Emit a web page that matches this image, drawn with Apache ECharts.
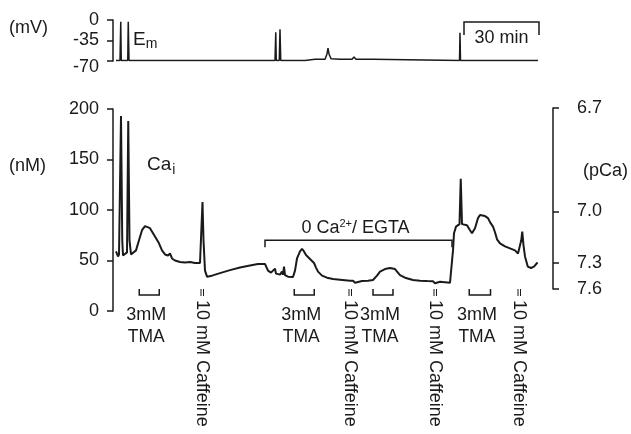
<!DOCTYPE html>
<html><head><meta charset="utf-8">
<script src="https://cdn.jsdelivr.net/npm/echarts@6/dist/echarts.min.js"></script>
<style>html,body{margin:0;padding:0;background:#fff}#c{width:631px;height:434px}</style>
</head><body><div id="c"></div>
<script>
// ---- data (time in minutes) ----
const caTime = [1.2,2.0,2.4,2.8,3.2,3.7,4.0,4.8,5.6,6.1,
  6.6,7.2,8.0,9.2,10.4,11.6,12.8,13.6,14.8,16.0,
  17.2,18.4,19.6,20.8,22.0,22.8,23.6,24.8,26.8,28.8,
  30.8,32.8,34.8,35.4,35.8,36.2,36.8,37.6,39.6,42.8,
  46.8,50.8,54.8,58.0,60.8,62.0,63.2,64.0,64.8,65.2,
  66.0,66.8,67.6,68.0,68.4,68.8,70.0,72.0,72.8,73.6,
  74.8,75.6,76.4,77.2,78.0,78.8,79.6,80.4,81.2,82.0,
  83.6,85.6,88.0,90.8,94.8,96.0,96.8,97.6,99.6,102.0,
  104.0,105.6,106.8,108.8,110.8,111.6,112.8,114.8,116.8,120.0,
  122.8,125.6,128.0,128.8,129.6,130.8,132.8,134.8,135.6,136.0,
  136.4,137.2,138.0,138.6,139.1,139.6,140.0,141.6,142.8,143.6,
  144.8,146.0,146.8,147.6,148.8,150.0,150.8,152.0,152.8,153.6,
  154.8,156.8,158.8,160.8,162.0,162.8,163.3,163.7,164.2,164.8,
  165.9,167.2,168.4,169.8];
const caValue = [59,54,56,57,193,70,55,55,58,188,
  70,56,56,60,70,80,84,85,82,77,
  72,67,60,56,55,57,52,50,48.5,48,
  48.5,47.5,47.5,48,108,70,40,34,35,37.5,
  40.5,43,45,46.5,46.5,40,38,38,42,37,
  37.6,36,39,36,44,35.6,34,33.7,40,52,
  59,61.4,59,55.4,54,51.5,49.5,47.5,43,39,
  35,33,31.7,31,30,30,28,29.5,29.7,30,
  30.7,35,39,41.5,42.6,43,41.5,35.6,33,30.7,
  30,29.7,29.5,27.4,28.5,29,28.5,28,29,60,
  77,83.5,84,86,131,86,85,85,80,77,
  82,92,95,96,94,92,88,83.5,78,71,
  67,64,62,60,57,58,70,78.5,65,54,
  44,42.6,44,48];
const emTime = [1.2,2.8,3.1,3.3,5.9,6.1,6.4,64.8,65.1,65.3,66.5,66.8,67.1,76.8,80.8,84.8,85.6,86.0,86.4,87.2,90.8,95.6,96.4,97.2,104.0,104.8,138.6,138.8,139.0,170.0];
const emValue = [-69,-69,-3,-69,-69,-3,-69,-69,-21,-69,-69,-16,-69,-69,-67,-67,-58,-48,-58,-66,-67,-67,-63,-67,-67,-69,-69,-22,-69,-69];
const tmaStart = [10.5, 72.5, 104, 142.5];
const tmaEnd = [18.5, 80.5, 112, 151];
const caffeineTime = [35.6, 94.8, 128.8, 162.4];
const egtaStart = 60.8, egtaEnd = 135.6;
const scaleBarStart = 140.4, scaleBarMinutes = 30;
const emTicks = [0, -35, -70];
const caTicks = [0, 50, 100, 150, 200];
const pcaTicks = [6.7, 7.0, 7.3, 7.6];

// ---- style ----
const INK = '#1a1a1a';
const FONT = '"Liberation Sans", Arial, Helvetica, sans-serif';
const nM = p => Math.pow(10, 9 - p);
const zip = (a, b) => a.map((v, i) => [v, b[i]]);

const chart = echarts.init(document.getElementById('c'), null, {renderer: 'canvas'});

const baseY = {
  type: 'value',
  axisLine: {show: true, onZero: false, lineStyle: {color: INK, width: 1.5}},
  axisTick: {show: true, inside: false, length: 6, lineStyle: {color: INK, width: 1.5}},
  splitLine: {show: false},
  axisLabel: {color: INK, fontSize: 18, fontFamily: FONT}
};

const txt = (text, extra) => Object.assign({text, fill: INK, fontSize: 18, fontFamily: FONT}, extra || {});

const option = {
  animation: false,
  backgroundColor: '#fff',
  grid: [
    {left: 113, top: 20, width: 440, height: 41},
    {left: 113, top: 109, width: 440, height: 202},
    {left: 113, top: 108, width: 440, height: 181}
  ],
  xAxis: [0, 1, 2].map(i => ({type: 'value', gridIndex: i, min: 0, max: 176, show: false})),
  yAxis: [
    Object.assign({}, baseY, {gridIndex: 0, min: emTicks[2], max: emTicks[0], interval: 35,
      axisLabel: Object.assign({}, baseY.axisLabel, {margin: 14,
        formatter: v => v === emTicks[2] ? '{low|' + v + '}' : String(v),
        rich: {low: {fontSize: 18, fontFamily: FONT, color: INK, padding: [12, 0, 0, 0]}}})}),
    Object.assign({}, baseY, {gridIndex: 1, min: caTicks[0], max: caTicks[caTicks.length - 1], interval: 50,
      axisLabel: Object.assign({}, baseY.axisLabel, {margin: 14})}),
    Object.assign({}, baseY, {gridIndex: 2, position: 'right',
      min: nM(pcaTicks[pcaTicks.length - 1]), max: nM(pcaTicks[0]),
      axisTick: Object.assign({}, baseY.axisTick, {customValues: pcaTicks.map(nM)}),
      axisLabel: Object.assign({}, baseY.axisLabel, {margin: 24, customValues: pcaTicks.map(nM),
        formatter: v => (9 - Math.log10(v)).toFixed(1)})})
  ],
  graphic: [
    {type: 'text', x: 9, y: 28, style: txt('(mV)', {verticalAlign: 'middle'})},
    {type: 'text', x: 9, y: 166, style: txt('(nM)', {verticalAlign: 'middle'})},
    {type: 'text', x: 583, y: 171, style: txt('(pCa)', {verticalAlign: 'middle'})},
    {type: 'text', x: 133, y: 40, style: txt('E{sub|m}', {verticalAlign: 'middle', fontSize: 19,
      rich: {sub: {fontSize: 14, fontFamily: FONT, fill: INK, verticalAlign: 'bottom', padding: [8, 0, 0, 0]}}})},
    {type: 'text', x: 147, y: 165, style: txt('Ca{sub|i}', {verticalAlign: 'middle', fontSize: 19,
      rich: {sub: {fontSize: 14, fontFamily: FONT, fill: INK, verticalAlign: 'bottom', padding: [10, 0, 0, 1]}}})}
  ],
  series: [
    {type: 'line', xAxisIndex: 0, yAxisIndex: 0, data: zip(emTime, emValue), showSymbol: false, symbol: 'none',
      lineStyle: {color: INK, width: 1.5}},
    {type: 'line', xAxisIndex: 1, yAxisIndex: 1, data: zip(caTime, caValue), showSymbol: false, symbol: 'none',
      lineStyle: {color: INK, width: 2}},
    {type: 'custom', xAxisIndex: 1, yAxisIndex: 1, clip: false,
      data: tmaStart.map((s, i) => [s, tmaEnd[i], 0]), encode: {x: [0, 1], y: 2},
      renderItem: (params, api) => {
        const p1 = api.coord([api.value(0), 0]);
        const p2 = api.coord([api.value(1), 0]);
        const y0 = p1[1], top = y0 - 22, bot = y0 - 16;
        const cx = (p1[0] + p2[0]) / 2 - 3;
        return {type: 'group', children: [
          {type: 'polyline', shape: {points: [[p1[0], top], [p1[0], bot], [p2[0], bot], [p2[0], top]]},
            style: {stroke: INK, lineWidth: 1.5, fill: null}},
          {type: 'text', x: cx, y: y0 + 4, style: txt('3mM', {align: 'center', verticalAlign: 'middle', fontSize: 18})},
          {type: 'text', x: cx, y: y0 + 26, style: txt('TMA', {align: 'center', verticalAlign: 'middle', fontSize: 17.5})}
        ]};
      }},
    {type: 'custom', xAxisIndex: 1, yAxisIndex: 1, clip: false,
      data: caffeineTime.map(t => [t, 0]), encode: {x: 0, y: 1},
      renderItem: (params, api) => {
        const p = api.coord([api.value(0), 0]);
        const x = p[0], y0 = p[1];
        return {type: 'group', children: [
          {type: 'line', shape: {x1: x - 1, y1: y0 - 22, x2: x - 1, y2: y0 - 15}, style: {stroke: INK, lineWidth: 1}},
          {type: 'line', shape: {x1: x + 1.5, y1: y0 - 22, x2: x + 1.5, y2: y0 - 15}, style: {stroke: INK, lineWidth: 1}},
          {type: 'text', x: x, y: y0 - 11, rotation: -Math.PI / 2,
            style: txt('10 mM Caffeine', {align: 'left', verticalAlign: 'middle', fontSize: 18})}
        ]};
      }},
    {type: 'custom', xAxisIndex: 1, yAxisIndex: 1, clip: false,
      data: [[egtaStart, egtaEnd, 70]], encode: {x: [0, 1], y: 2},
      renderItem: (params, api) => {
        const p1 = api.coord([api.value(0), api.value(2)]);
        const p2 = api.coord([api.value(1), api.value(2)]);
        const y = p1[1];
        return {type: 'group', children: [
          {type: 'polyline', shape: {points: [[p1[0], y + 7], [p1[0], y], [p2[0], y], [p2[0], y + 7]]},
            style: {stroke: INK, lineWidth: 1.5, fill: null}},
          {type: 'text', x: (p1[0] + p2[0]) / 2 - 3, y: y - 12,
            style: txt('0 Ca{sup|2+}/ EGTA', {align: 'center', verticalAlign: 'middle',
              rich: {sup: {fontSize: 11, fontFamily: FONT, fill: INK, verticalAlign: 'top', padding: [0, 0, 8, 0]}}})}
        ]};
      }},
    {type: 'custom', xAxisIndex: 0, yAxisIndex: 0, clip: false,
      data: [[scaleBarStart, scaleBarStart + scaleBarMinutes, 0]], encode: {x: [0, 1], y: 2},
      renderItem: (params, api) => {
        const p1 = api.coord([api.value(0), 0]);
        const p2 = api.coord([api.value(1), 0]);
        const y = p1[1] + 2;
        return {type: 'group', children: [
          {type: 'polyline', shape: {points: [[p1[0], y + 13], [p1[0], y], [p2[0], y], [p2[0], y + 13]]},
            style: {stroke: INK, lineWidth: 1.5, fill: null}},
          {type: 'text', x: (p1[0] + p2[0]) / 2, y: y + 16,
            style: txt('30 min', {align: 'center', verticalAlign: 'middle'})}
        ]};
      }}
  ]
};
chart.setOption(option);
</script>
</body></html>
